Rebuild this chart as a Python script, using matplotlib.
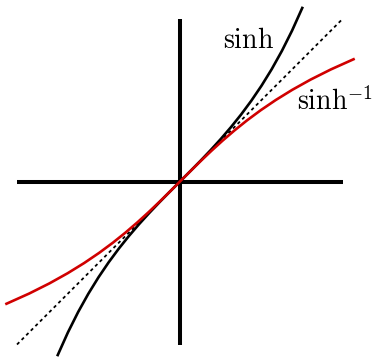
import matplotlib
matplotlib.use("Agg")
import matplotlib.pyplot as plt

plt.rcParams['mathtext.fontset'] = 'cm'

# sample parameter t and sinh(t) values
t_vals = [-1.5, -1.375, -1.25, -1.125, -1.0, -0.875, -0.75, -0.625, -0.5, -0.375, -0.25, -0.125,
          0.0, 0.125, 0.25, 0.375, 0.5, 0.625, 0.75, 0.875, 1.0, 1.125, 1.25, 1.375, 1.5]
sinh_vals = [-2.1293, -1.8511, -1.6019, -1.3778, -1.1752, -0.9910, -0.8223, -0.6665, -0.5211, -0.3839, -0.2526, -0.1253,
             0.0, 0.1253, 0.2526, 0.3839, 0.5211, 0.6665, 0.8223, 0.9910, 1.1752, 1.3778, 1.6019, 1.8511, 2.1293]
diag = [-2.0, 2.0]
axis_span = [-2.0, 2.0]
labels = [r'$\sinh$', r'$\sinh^{-1}$']

s = 81.5
fig = plt.figure(figsize=(3.78, 3.57), dpi=100)
ax = fig.add_axes([0, 0, 1, 1])
ax.set_xlim(-180 / s, 198 / s)
ax.set_ylim(-(357 - 181.5) / s, 181.5 / s)
ax.axis('off')

ax.plot(axis_span, [0, 0], color='black', lw=2.9, solid_capstyle='butt')
ax.plot([0, 0], axis_span, color='black', lw=2.9, solid_capstyle='butt')
ax.plot(diag, diag, color='black', lw=1.3, ls=(0, (1.8, 1.8)))
ax.plot(t_vals, sinh_vals, color='black', lw=1.9)
ax.plot(sinh_vals, t_vals, color='#d00000', lw=1.9)

ax.text(0.528, 1.638, labels[0], fontsize=20, ha='left', va='baseline')
ax.text(1.436, 0.877, labels[1], fontsize=20, ha='left', va='baseline')

fig.savefig('out.png', dpi=100)
